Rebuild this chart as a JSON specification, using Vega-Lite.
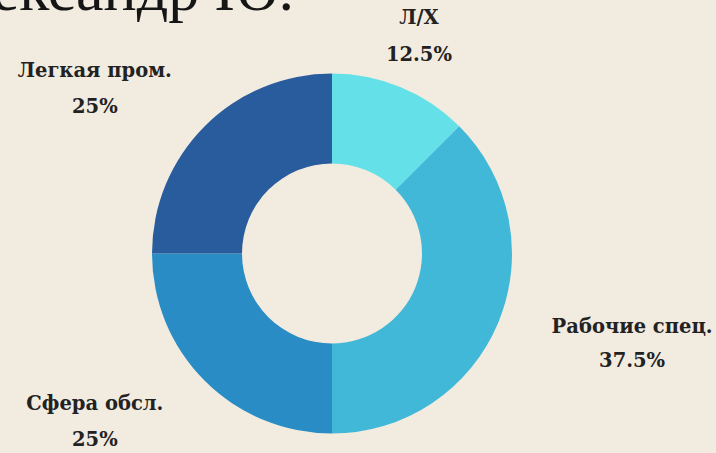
{
  "$schema": "https://vega.github.io/schema/vega-lite/v6.json",
  "autosize": "none",
  "width": 664,
  "height": 399,
  "padding": {"left": 0, "top": 54, "right": 52, "bottom": 0},
  "background": "#f2ebe0",
  "title": {
    "text": "Александр Ю.",
    "anchor": "start",
    "frame": "group",
    "font": "Liberation Serif",
    "fontSize": 62,
    "fontWeight": "normal",
    "color": "#151515",
    "baseline": "alphabetic",
    "offset": 0,
    "dx": -84,
    "dy": 64
  },
  "view": {"stroke": null},
  "data": {
    "values": [
      {"category": "Л/Х", "share": 0.125, "rank": 1},
      {"category": "Рабочие спец.", "share": 0.375, "rank": 2},
      {"category": "Сфера обсл.", "share": 0.25, "rank": 3},
      {"category": "Легкая пром.", "share": 0.25, "rank": 4}
    ]
  },
  "encoding": {
    "theta": {"field": "share", "type": "quantitative", "stack": true},
    "order": {"field": "rank", "type": "quantitative"}
  },
  "layer": [
    {
      "mark": {"type": "arc", "outerRadius": 180, "innerRadius": 90},
      "encoding": {
        "color": {
          "field": "category",
          "type": "nominal",
          "scale": {
            "domain": ["Л/Х", "Рабочие спец.", "Сфера обсл.", "Легкая пром."],
            "range": ["#64e1e8", "#42b8d8", "#298cc4", "#285c9c"]
          },
          "legend": null
        }
      }
    },
    {
      "mark": {"type": "text", "radius": 235, "font": "DejaVu Serif", "fontWeight": "bold", "fontSize": 19.5, "dx": -3, "dy": -18, "color": "#222222"},
      "encoding": {
        "text": {"condition": {"test": "datum.rank === 1", "field": "category", "type": "nominal"}, "value": ""}
      }
    },
    {
      "mark": {"type": "text", "radius": 235, "font": "DejaVu Serif", "fontWeight": "bold", "fontSize": 19.5, "dx": -3, "dy": 19, "color": "#222222"},
      "encoding": {
        "text": {"condition": {"test": "datum.rank === 1", "field": "share", "type": "quantitative", "format": ".1~%"}, "value": ""}
      }
    },
    {
      "mark": {"type": "text", "radius": 235, "font": "DejaVu Serif", "fontWeight": "bold", "fontSize": 19.5, "dx": 83, "dy": -16, "color": "#222222"},
      "encoding": {
        "text": {"condition": {"test": "datum.rank === 2", "field": "category", "type": "nominal"}, "value": ""}
      }
    },
    {
      "mark": {"type": "text", "radius": 235, "font": "DejaVu Serif", "fontWeight": "bold", "fontSize": 19.5, "dx": 83, "dy": 18, "color": "#222222"},
      "encoding": {
        "text": {"condition": {"test": "datum.rank === 2", "field": "share", "type": "quantitative", "format": ".1~%"}, "value": ""}
      }
    },
    {
      "mark": {"type": "text", "radius": 235, "font": "DejaVu Serif", "fontWeight": "bold", "fontSize": 19.5, "dx": -71, "dy": -16, "color": "#222222"},
      "encoding": {
        "text": {"condition": {"test": "datum.rank >= 3", "field": "category", "type": "nominal"}, "value": ""}
      }
    },
    {
      "mark": {"type": "text", "radius": 235, "font": "DejaVu Serif", "fontWeight": "bold", "fontSize": 19.5, "dx": -71, "dy": 20, "color": "#222222"},
      "encoding": {
        "text": {"condition": {"test": "datum.rank >= 3", "field": "share", "type": "quantitative", "format": ".1~%"}, "value": ""}
      }
    }
  ]
}
